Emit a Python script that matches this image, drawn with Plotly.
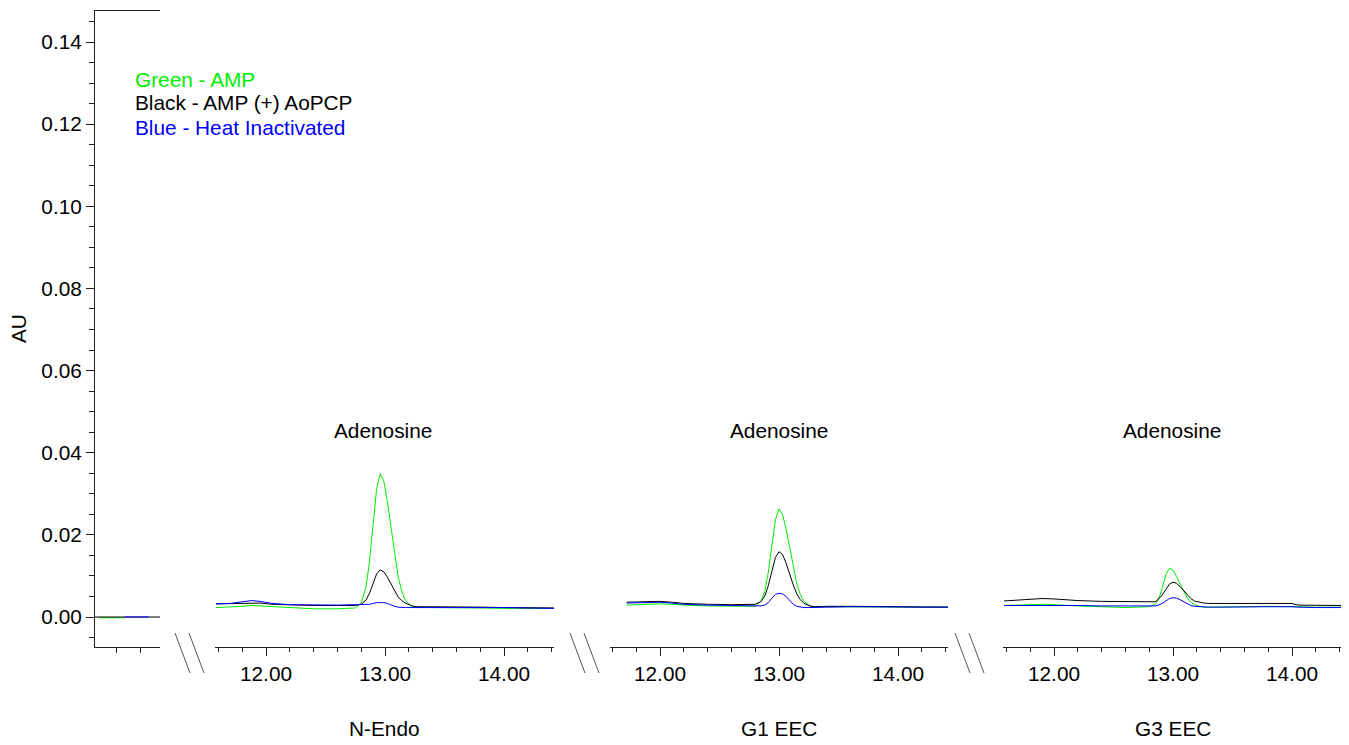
import plotly.graph_objects as go

# ---------------- data ----------------
panel_names = ["N-Endo", "G1 EEC", "G3 EEC"]
peak_label = "Adenosine"
legend_texts = ["Green - AMP", "Black - AMP (+) AoPCP", "Blue - Heat Inactivated"]

# small leading segment (before the axis break)
t0_black = [-0.18, 0.365]
black0 = [0.0, 0.0]
t0_green = [-0.15, 0.07]
green0 = [-0.0002, -0.0002]
t0_blue = [0.07, 0.27]
blue0 = [0.0, 0.0]

# N-Endo
t1 = [11.58, 11.70, 11.80, 11.88, 11.95, 12.05, 12.20, 12.40, 12.60, 12.75, 12.80, 12.84, 12.87,
      12.90, 12.93, 12.96, 12.99, 13.02, 13.05, 13.08, 13.11, 13.14, 13.17, 13.22, 13.26, 13.35,
      13.60, 13.80, 14.00, 14.20, 14.42]
green1 = [0.0023, 0.0024, 0.0026, 0.0028, 0.0027, 0.0024, 0.0022, 0.0020, 0.0020, 0.0022, 0.0034,
          0.0072, 0.0136, 0.0227, 0.0313, 0.0349, 0.0331, 0.0281, 0.0216, 0.0151, 0.0099, 0.0063,
          0.0041, 0.0026, 0.0023, 0.0023, 0.0023, 0.0022, 0.0021, 0.0021, 0.0021]
black1 = [0.0032, 0.0033, 0.0034, 0.0035, 0.0034, 0.0031, 0.0029, 0.0028, 0.0028, 0.0028, 0.0031,
          0.0041, 0.0058, 0.0082, 0.0105, 0.0115, 0.0110, 0.0097, 0.0080, 0.0062, 0.0049, 0.0040,
          0.0034, 0.0028, 0.0025, 0.0025, 0.0025, 0.0024, 0.0023, 0.0022, 0.0022]
blue1 = [0.0032, 0.0033, 0.0037, 0.0040, 0.0038, 0.0033, 0.0030, 0.0029, 0.0029, 0.0030, 0.0030,
         0.0030, 0.0031, 0.0033, 0.0035, 0.0035, 0.0035, 0.0033, 0.0029, 0.0026, 0.0024, 0.0023,
         0.0023, 0.0023, 0.0023, 0.0024, 0.0024, 0.0024, 0.0023, 0.0022, 0.0021]

# G1 EEC
t2 = [11.72, 11.80, 11.90, 12.00, 12.10, 12.20, 12.40, 12.60, 12.80, 12.85, 12.88, 12.91, 12.94,
      12.97, 13.00, 13.03, 13.06, 13.09, 13.12, 13.15, 13.18, 13.21, 13.26, 13.30, 13.40, 13.60,
      13.80, 14.00, 14.20, 14.42]
green2 = [0.0029, 0.0030, 0.0031, 0.0032, 0.0031, 0.0029, 0.0027, 0.0026, 0.0026, 0.0039, 0.0062,
          0.0109, 0.0174, 0.0237, 0.0263, 0.0249, 0.0214, 0.0166, 0.0118, 0.0080, 0.0054, 0.0038,
          0.0027, 0.0024, 0.0025, 0.0025, 0.0025, 0.0025, 0.0024, 0.0024]
black2 = [0.0036, 0.0037, 0.0038, 0.0038, 0.0036, 0.0033, 0.0031, 0.0030, 0.0031, 0.0038, 0.0051,
          0.0076, 0.0111, 0.0145, 0.0159, 0.0152, 0.0131, 0.0104, 0.0078, 0.0056, 0.0042, 0.0033,
          0.0027, 0.0025, 0.0026, 0.0026, 0.0026, 0.0025, 0.0024, 0.0024]
blue2 = [0.0034, 0.0035, 0.0035, 0.0036, 0.0034, 0.0031, 0.0029, 0.0028, 0.0027, 0.0027, 0.0029,
         0.0035, 0.0046, 0.0055, 0.0058, 0.0056, 0.0050, 0.0040, 0.0031, 0.0026, 0.0024, 0.0023,
         0.0023, 0.0023, 0.0024, 0.0025, 0.0025, 0.0025, 0.0024, 0.0024]

# G3 EEC
t3 = [11.58, 11.70, 11.80, 11.90, 12.00, 12.10, 12.20, 12.40, 12.60, 12.80, 12.85, 12.88, 12.91,
      12.94, 12.97, 13.00, 13.03, 13.06, 13.09, 13.12, 13.15, 13.18, 13.22, 13.26, 13.30, 13.40,
      13.60, 13.80, 14.00, 14.05, 14.20, 14.42]
green3 = [0.0028, 0.0029, 0.0030, 0.0031, 0.0030, 0.0028, 0.0027, 0.0025, 0.0023, 0.0025, 0.0031,
          0.0044, 0.0071, 0.0104, 0.0119, 0.0114, 0.0099, 0.0080, 0.0062, 0.0046, 0.0036, 0.0030,
          0.0026, 0.0024, 0.0024, 0.0024, 0.0025, 0.0026, 0.0026, 0.0025, 0.0024, 0.0024]
black3 = [0.0039, 0.0041, 0.0043, 0.0045, 0.0044, 0.0042, 0.0040, 0.0038, 0.0037, 0.0037, 0.0037,
          0.0044, 0.0054, 0.0067, 0.0080, 0.0085, 0.0082, 0.0074, 0.0064, 0.0054, 0.0045, 0.0039,
          0.0036, 0.0034, 0.0033, 0.0033, 0.0033, 0.0033, 0.0033, 0.0029, 0.0028, 0.0028]
blue3 = [0.0028, 0.0028, 0.0029, 0.0029, 0.0029, 0.0028, 0.0028, 0.0027, 0.0027, 0.0027, 0.0027,
         0.0029, 0.0033, 0.0039, 0.0045, 0.0047, 0.0046, 0.0042, 0.0037, 0.0032, 0.0028, 0.0026,
         0.0025, 0.0024, 0.0024, 0.0024, 0.0025, 0.0025, 0.0025, 0.0024, 0.0023, 0.0023]

peak_times = [12.98, 13.00, 12.99]
label_y = 0.0453

# ---------------- styling ----------------
OFF = 8                      # browser body margin
W, H = 1349 - OFF, 745 - OFF
GREEN, BLACK, BLUE = "#00ee00", "#000000", "#0000ff"
FONT = "Liberation Sans, Arial, sans-serif"
FS = 20.8


def px(x):
    return (x - OFF) / W


def py(y):
    return 1 - (y - OFF) / H


fig = go.Figure()

panels = [
    ("x", t0_green, green0, t0_black, black0, t0_blue, blue0),
    ("x2", t1, green1, t1, black1, t1, blue1),
    ("x3", t2, green2, t2, black2, t2, blue2),
    ("x4", t3, green3, t3, black3, t3, blue3),
]
for xa, tg, g, tb, b, tbl, bl in panels:
    fig.add_trace(go.Scatter(x=tg, y=g, xaxis=xa, yaxis="y", mode="lines",
                             line=dict(color=GREEN, width=1), showlegend=False, hoverinfo="skip"))
    fig.add_trace(go.Scatter(x=tb, y=b, xaxis=xa, yaxis="y", mode="lines",
                             line=dict(color=BLACK, width=1), showlegend=False, hoverinfo="skip"))
    fig.add_trace(go.Scatter(x=tbl, y=bl, xaxis=xa, yaxis="y", mode="lines",
                             line=dict(color=BLUE, width=1), showlegend=False, hoverinfo="skip"))

AXC = "#222222"
y_dom = [py(647), py(11)]
y_range = [-0.007304, 0.147548]

fig.update_layout(
    width=W, height=H,
    margin=dict(l=0, r=0, t=0, b=0),
    paper_bgcolor="white", plot_bgcolor="white",
    font=dict(family=FONT, size=FS, color="black"),
    showlegend=False,
    yaxis=dict(domain=y_dom, range=y_range, anchor="x", showgrid=False, zeroline=False,
               showline=True, linecolor=AXC, linewidth=1,
               ticks="outside", ticklen=8, tickcolor=AXC, tickwidth=1,
               tick0=0, dtick=0.02, tickformat=".2f",
               tickfont=dict(family=FONT, size=FS, color="black"),
               minor=dict(ticks="outside", ticklen=5, dtick=0.005, tick0=0, tickcolor=AXC,
                          showgrid=False)),
    xaxis=dict(domain=[px(95), px(160)], range=[-0.18, 0.365], anchor="y",
               showgrid=False, zeroline=False, showline=True, linecolor=AXC, linewidth=1,
               mirror=True, ticks="outside", ticklen=5, tickcolor=AXC,
               tickvals=[0.0, 0.2], showticklabels=False),
)

xdoms = [[px(215), px(554)], [px(610), px(948)], [px(1003), px(1342)]]
xranges = [[11.5714, 14.4202], [11.5798, 14.4202], [11.5714, 14.4202]]
for i, (dom, rng) in enumerate(zip(xdoms, xranges)):
    name = "xaxis%d" % (i + 2)
    fig.layout[name] = dict(domain=dom, range=rng, anchor="y", showgrid=False, zeroline=False,
                            showline=True, linecolor=AXC, linewidth=1,
                            ticks="outside", ticklen=8, tickcolor=AXC,
                            tick0=0, dtick=1, tickformat=".2f",
                            tickfont=dict(family=FONT, size=FS, color="black"),
                            minor=dict(ticks="outside", ticklen=4, dtick=0.2, tick0=0,
                                       tickcolor=AXC, showgrid=False))

annotations = []
# peak labels
for i, t in enumerate(peak_times):
    annotations.append(dict(x=t, y=label_y, xref="x%d" % (i + 2), yref="y", text=peak_label,
                            showarrow=False, xanchor="center", yanchor="middle",
                            font=dict(family=FONT, size=FS, color="black")))
# panel names
for i, name in enumerate(panel_names):
    d = xdoms[i]
    annotations.append(dict(x=(d[0] + d[1]) / 2, y=py(728), xref="paper", yref="paper",
                            text=name, showarrow=False, xanchor="center", yanchor="middle",
                            font=dict(family=FONT, size=FS, color="black")))
# legend text
for txt, col, yy in zip(legend_texts, [GREEN, BLACK, BLUE], [79, 103, 127]):
    annotations.append(dict(x=px(133), y=py(yy), xref="paper", yref="paper", text=txt,
                            showarrow=False, xanchor="left", yanchor="middle",
                            font=dict(family=FONT, size=FS, color=col)))
# y title
annotations.append(dict(x=px(18), y=py(329), xref="paper", yref="paper", text="AU",
                        textangle=-90, showarrow=False, xanchor="center", yanchor="middle",
                        font=dict(family=FONT, size=FS, color="black")))
fig.update_layout(annotations=annotations)

# axis-break marks
shapes = []
for x0 in [175, 570, 955]:
    for dx in [0, 14]:
        shapes.append(dict(type="line", xref="paper", yref="paper",
                           x0=px(x0 + dx), y0=py(633), x1=px(x0 + dx + 15), y1=py(673),
                           line=dict(color="#555555", width=1)))
fig.update_layout(shapes=shapes)

fig.write_html("out.html")
